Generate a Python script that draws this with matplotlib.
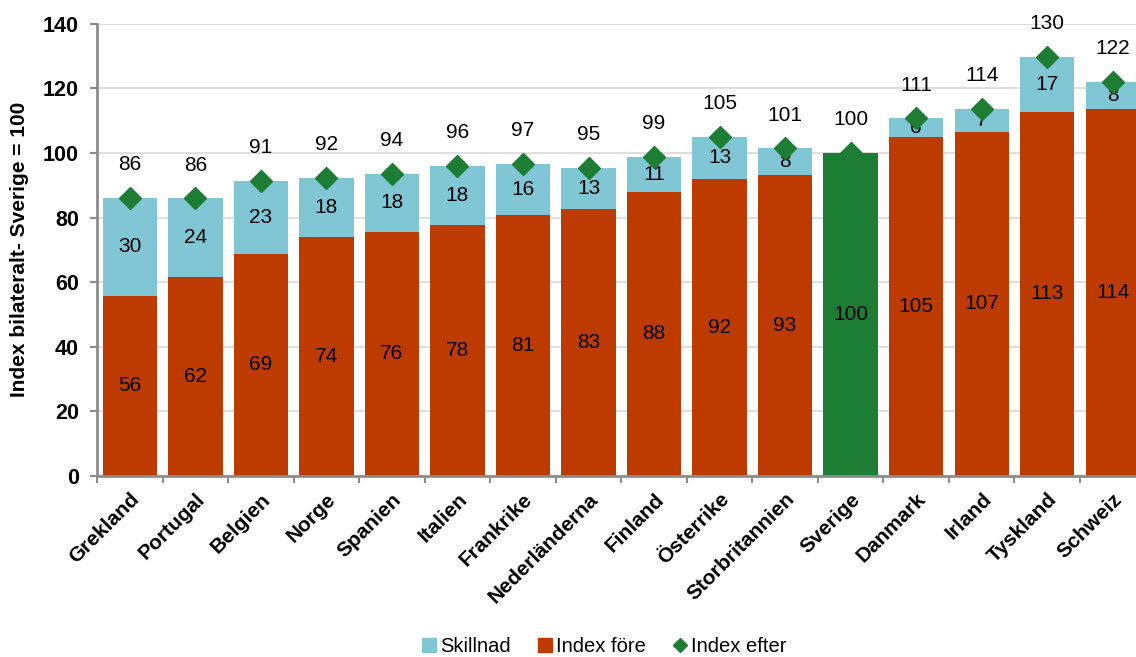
import matplotlib
matplotlib.use('Agg')
import matplotlib.pyplot as plt
from matplotlib.lines import Line2D
from matplotlib.transforms import ScaledTranslation
import numpy as np

plt.rcParams['font.family'] = ['Liberation Sans', 'DejaVu Sans']

# Index values per country (Sverige = 100)
countries = ["Grekland", "Portugal", "Belgien", "Norge", "Spanien", "Italien",
             "Frankrike", "Nederländerna", "Finland", "Österrike", "Storbritannien",
             "Sverige", "Danmark", "Irland", "Tyskland", "Schweiz"]
index_fore = [55.8, 61.7, 68.7, 74.0, 75.6, 77.6, 80.7, 82.7, 87.9, 92.0, 93.3,
              100.0, 105.0, 106.6, 112.7, 113.6]
skillnad = [30.2, 24.2, 22.7, 18.4, 18.0, 18.4, 15.9, 12.6, 11.0, 13.0, 8.1,
            0.0, 5.7, 7.1, 17.2, 8.4]
index_efter = [86.0, 85.9, 91.4, 92.4, 93.6, 96.0, 96.6, 95.3, 98.9, 105.0, 101.4,
               100.0, 110.7, 113.7, 129.9, 122.0]

RED = '#BD3A00'
BLUE = '#80C6D5'
GREEN = '#1E7D35'
GRAY = '#8C8C8C'

fig = plt.figure(figsize=(11.36, 6.57), dpi=100)
ax = fig.add_axes([0.0854, 0.276, 0.923, 0.6876])

x = np.arange(len(countries))
fore_colors = [GREEN if c == "Sverige" else RED for c in countries]

b1 = ax.bar(x, index_fore, width=0.83, color=fore_colors, zorder=2)
b2 = ax.bar(x, skillnad, width=0.83, bottom=index_fore, color=BLUE, zorder=2)

ax.bar_label(b1, labels=[f"{v:.0f}" for v in index_fore], label_type='center',
             fontsize=15, color='black')
ax.bar_label(b2, labels=[f"{v:.0f}" if v > 0 else "" for v in skillnad],
             label_type='center', fontsize=15, color='black')

ax.plot(x, index_efter, linestyle='none', marker='D', markersize=11,
        color=GREEN, zorder=3)
for xi, v in zip(x, index_efter):
    ax.annotate(f"{v:.0f}", (xi, v), xytext=(0, 24), textcoords='offset points',
                ha='center', va='center', fontsize=15)

ax.set_xlim(-0.5, len(countries) - 0.5)
ax.set_ylim(0, 140)
ax.set_yticks(np.arange(0, 141, 20))
ax.yaxis.grid(True, color='#D9D9D9', linewidth=1.2, zorder=0)
ax.set_axisbelow(True)

ax.set_xticks(x)
ax.set_xticklabels(countries, rotation=45, ha='right', rotation_mode='anchor',
                   fontsize=15, fontweight='bold')
shift = ScaledTranslation(-5 / 100, 0, fig.dpi_scale_trans)
for lbl in ax.get_xticklabels():
    lbl.set_transform(lbl.get_transform() + shift)
ax.set_xticks(np.arange(-0.5, len(countries)), minor=True)
ax.tick_params(axis='x', which='major', length=0, pad=10)
ax.tick_params(axis='x', which='minor', length=5, width=1.5, color=GRAY)
ax.tick_params(axis='y', length=5, width=1.5, color=GRAY, labelsize=15.5, pad=8)
for lbl in ax.get_yticklabels():
    lbl.set_fontweight('bold')

for s in ['top', 'right']:
    ax.spines[s].set_visible(False)
for s in ['left', 'bottom']:
    ax.spines[s].set_color(GRAY)
    ax.spines[s].set_linewidth(2)

ax.set_ylabel("Index bilateralt- Sverige = 100", fontsize=15, fontweight='bold',
              labelpad=10)

handles = [
    Line2D([], [], linestyle='none', marker='s', markersize=10, color=BLUE),
    Line2D([], [], linestyle='none', marker='s', markersize=10, color=RED),
    Line2D([], [], linestyle='none', marker='D', markersize=7.5, color=GREEN),
]
fig.legend(handles, ["Skillnad", "Index före", "Index efter"], loc='center',
           bbox_to_anchor=(603 / 1136, 1 - 647 / 657), ncol=3, frameon=False,
           fontsize=14.5, handletextpad=0.05, columnspacing=1.2, handlelength=1.0)

fig.savefig("out.png", dpi=100)
